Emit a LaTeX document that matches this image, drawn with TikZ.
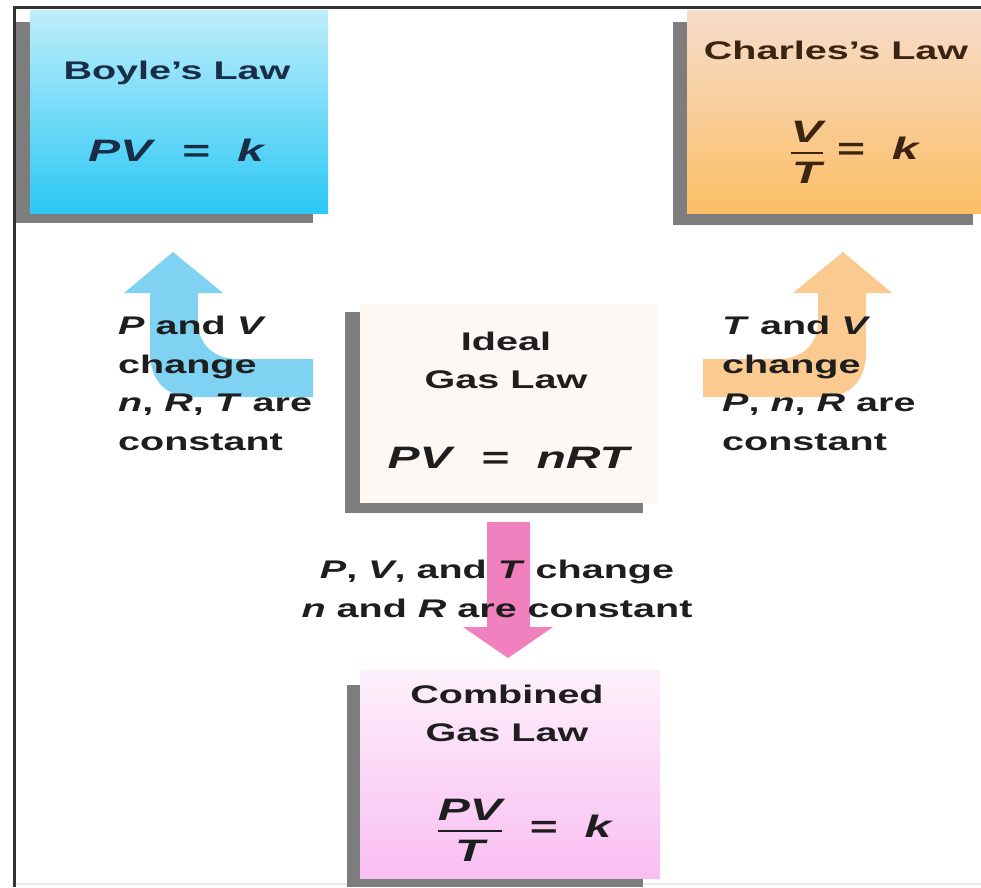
\documentclass[tikz,border=0pt]{standalone}
\usepackage{fontspec}
\setmainfont{Liberation Sans}[FakeStretch=1.55]
\definecolor{boyletop}{RGB}{190,238,250}
\definecolor{boylebot}{RGB}{44,200,245}
\definecolor{charlestop}{RGB}{247,220,204}
\definecolor{charlesbot}{RGB}{251,190,100}
\definecolor{idealfill}{RGB}{253,248,243}
\definecolor{combtop}{RGB}{253,240,251}
\definecolor{combbot}{RGB}{249,190,243}
\definecolor{shadowgray}{RGB}{125,125,125}
\definecolor{bluearrow}{RGB}{128,210,242}
\definecolor{orangearrow}{RGB}{250,202,145}
\definecolor{pinkarrow}{RGB}{240,128,190}
\definecolor{boyletext}{RGB}{25,45,70}
\definecolor{charlestext}{RGB}{60,36,18}
\definecolor{labeltext}{RGB}{30,30,30}
\begin{document}
\begin{tikzpicture}[x=1pt,y=-1pt,
  title/.style={font=\fontsize{25.5}{38}\selectfont\bfseries,align=center},
  formula/.style={font=\fontsize{31}{36}\selectfont\bfseries},
  note/.style={font=\fontsize{25.5}{38.5}\selectfont\bfseries,align=left,
    anchor=north west,inner sep=0pt,text=labeltext}]
\useasboundingbox (0,0) rectangle (981,887);
% frame
\draw[line width=3pt,color=black!80] (14,887) -- (14,7) -- (981,7);
\draw[line width=1.5pt,color=black!8] (16,884) -- (981,884);
% Boyle
\fill[shadowgray] (16,22) rectangle (313,223);
\shade[top color=boyletop,bottom color=boylebot] (30,10) rectangle (328,213);
\node[title,text=boyletext] (boyle) at (177,73) {Boyle's Law};
\node[formula,text=boyletext] (boylef) at (177,150) {\textit{PV}\ \ =\ \ \textit{k}};
% Charles
\fill[shadowgray] (673,22) rectangle (973,225);
\shade[top color=charlestop,bottom color=charlesbot] (687,10) rectangle (981,213);
\node[title,text=charlestext] (charles) at (836,50) {Charles's Law};
\node[formula,text=charlestext] (charlesf) at (855,152)
  {$\displaystyle{\mbox{\itshape V}\above 2.5pt\mbox{\itshape T}}$\ =\ \ \textit{k}};
% Ideal
\fill[shadowgray] (345,312) rectangle (643,513);
\fill[idealfill] (360,305) rectangle (658,503);
\node[title,text=labeltext] (ideal) at (506,360) {Ideal\\Gas Law};
\node[formula,text=labeltext] (idealf) at (510,458) {\textit{PV}\ \ =\ \ \textit{nRT}};
% Combined
\fill[shadowgray] (347,685) rectangle (643,887);
\shade[top color=combtop,bottom color=combbot] (360,670) rectangle (660,878);
\node[title,text=labeltext] (comb) at (507,713) {Combined\\Gas Law};
\node[formula,text=labeltext] (combf) at (525,830)
  {$\displaystyle{\mbox{\itshape PV}\above 2.5pt\mbox{\itshape T}}$\ \ =\ \ \textit{k}};
% arrows
\fill[bluearrow] (313,359) -- (237,359) .. controls (215,359) and (198,345) .. (198,322)
  -- (198,293) -- (223,293) -- (173,252) -- (124,293) -- (150,293) -- (150,352)
  .. controls (150,380) and (165,397) .. (193,397) -- (313,397) -- cycle;
\fill[orangearrow] (703,359) -- (779,359) .. controls (801,359) and (818,345) .. (818,322)
  -- (818,293) -- (793,293) -- (843,252) -- (892,293) -- (866,293) -- (866,352)
  .. controls (866,380) and (851,397) .. (823,397) -- (703,397) -- cycle;
\fill[pinkarrow] (487,522) -- (530,522) -- (530,627) -- (553,627) -- (508,658)
  -- (463,627) -- (487,627) -- cycle;
% labels
\node[note] (boylenote) at (118,316) {\textit{P} and \textit{V}\\change\\\textit{n}, \textit{R}, \textit{T} are\\constant};
\node[note] (charlesnote) at (722,316) {\textit{T} and \textit{V}\\change\\\textit{P}, \textit{n}, \textit{R} are\\constant};
\node[note,align=center,anchor=center] (combnote) at (497,589) {\textit{P}, \textit{V}, and \textit{T} change\\\textit{n} and \textit{R} are constant};
\end{tikzpicture}
\end{document}
